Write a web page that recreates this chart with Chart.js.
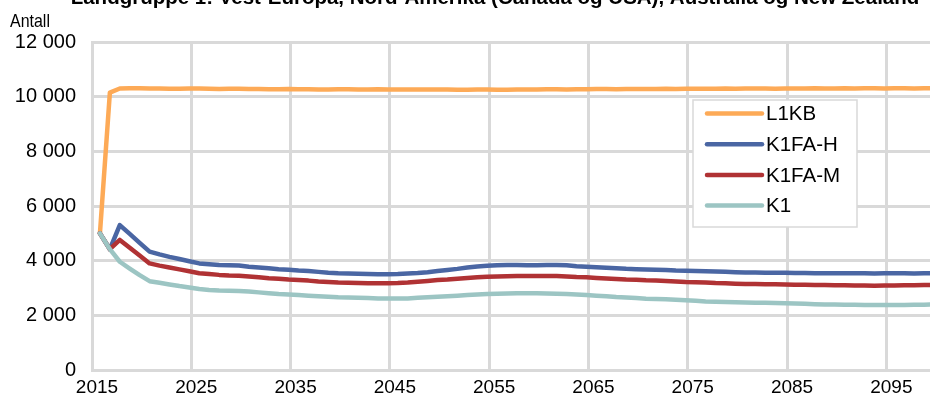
<!DOCTYPE html>
<html>
<head>
<meta charset="utf-8">
<script src="https://cdn.jsdelivr.net/npm/chart.js@4.4.1/dist/chart.umd.min.js"></script>
<style>
  html, body { margin: 0; padding: 0; background: #fff; }
  .graph-area { position: relative; width: 930px; height: 403px; }
</style>
</head>
<body>
<div class="graph-area"><canvas id="chart"></canvas></div>
<script>
  // Setup Block
  const chartTitle = 'Landgruppe 1: Vest-Europa, Nord-Amerika (Canada og USA), Australia og New Zealand';
  const yAxisTitle = 'Antall';

  const firstYear = 2015;
  const lastYear  = 2099;
  const years = [];
  for (let y = firstYear; y <= lastYear; y++) years.push(y);

  const seriesNames  = ['L1KB', 'K1FA-H', 'K1FA-M', 'K1'];
  const seriesColors = ['#fdaa57', '#4a66a3', '#b03234', '#9cc5c3'];

  const l1kb = [
    5000, 10150, 10300, 10310, 10310, 10300, 10300, 10290, 10290, 10300,
    10300, 10290, 10280, 10290, 10290, 10280, 10280, 10270, 10270, 10280,
    10270, 10270, 10260, 10260, 10270, 10270, 10260, 10260, 10270, 10260,
    10260, 10260, 10260, 10260, 10260, 10260, 10250, 10250, 10260, 10260,
    10250, 10250, 10260, 10260, 10260, 10270, 10270, 10260, 10270, 10270,
    10280, 10280, 10270, 10280, 10280, 10280, 10280, 10290, 10280, 10290,
    10290, 10290, 10290, 10300, 10290, 10300, 10300, 10300, 10290, 10300,
    10300, 10300, 10310, 10300, 10300, 10310, 10300, 10310, 10310, 10300,
    10310, 10310, 10300, 10310, 10310
  ];

  const k1faH = [
    5000, 4420, 5300, 4980, 4650, 4330, 4230, 4140, 4060, 3980,
    3900, 3870, 3840, 3830, 3820, 3780, 3750, 3720, 3690, 3670,
    3640, 3620, 3590, 3560, 3540, 3530, 3520, 3510, 3500, 3500,
    3510, 3530, 3550, 3580, 3620, 3660, 3700, 3750, 3790, 3810,
    3830, 3840, 3840, 3830, 3830, 3840, 3840, 3830, 3800, 3780,
    3760, 3740, 3720, 3700, 3690, 3680, 3670, 3660, 3640, 3630,
    3620, 3610, 3600, 3590, 3580, 3570, 3570, 3560, 3560, 3560,
    3550, 3550, 3540, 3540, 3540, 3540, 3540, 3540, 3530, 3540,
    3540, 3540, 3530, 3540, 3540
  ];

  const k1faM = [
    5000, 4420, 4760, 4470, 4190, 3900, 3820, 3750, 3680, 3610,
    3540, 3510, 3480, 3460, 3450, 3420, 3390, 3360, 3340, 3310,
    3290, 3270, 3240, 3220, 3200, 3190, 3180, 3170, 3170, 3170,
    3180, 3200, 3230, 3260, 3290, 3310, 3340, 3370, 3390, 3410,
    3420, 3430, 3440, 3440, 3440, 3440, 3440, 3420, 3400, 3390,
    3370, 3350, 3330, 3310, 3300, 3280, 3270, 3260, 3240, 3220,
    3210, 3200, 3180, 3170, 3160, 3150, 3150, 3140, 3140, 3130,
    3120, 3120, 3110, 3110, 3100, 3100, 3090, 3090, 3080, 3090,
    3090, 3100, 3100, 3110, 3110
  ];

  const k1 = [
    5000, 4420, 3960, 3710, 3470, 3250, 3190, 3130, 3070, 3020,
    2960, 2930, 2910, 2900, 2890, 2870, 2840, 2810, 2780, 2760,
    2740, 2720, 2700, 2680, 2660, 2650, 2640, 2630, 2620, 2620,
    2620, 2620, 2640, 2660, 2680, 2700, 2720, 2740, 2760, 2780,
    2790, 2800, 2810, 2810, 2810, 2800, 2790, 2780, 2760, 2740,
    2720, 2700, 2670, 2650, 2630, 2610, 2600, 2590, 2570, 2550,
    2530, 2510, 2500, 2490, 2480, 2470, 2460, 2460, 2450, 2440,
    2430, 2420, 2410, 2400, 2400, 2390, 2390, 2380, 2380, 2380,
    2380, 2380, 2390, 2390, 2400
  ];

  const seriesValues = [l1kb, k1faH, k1faM, k1];

  const yMin  = 0;
  const yMax  = 12000;
  const yStep = 2000;
  const xLabelYears = [2015, 2025, 2035, 2045, 2055, 2065, 2075, 2085, 2095];

  const fontFamily = "'Liberation Sans', Arial, sans-serif";
  const gridColor  = '#d9d9d9';

  // x scale: gridlines sit a little before each labelled year
  const xStart = 2014.2;
  const xEnd   = 2098.6;

  const data = {
    datasets: seriesNames.map((name, i) => ({
      label: name,
      data: years.map((yr, j) => ({ x: yr, y: seriesValues[i][j] })),
      borderColor: seriesColors[i],
      backgroundColor: seriesColors[i],
      borderWidth: 4.5,
      pointRadius: 0,
      tension: 0,
      borderJoinStyle: 'round',
      borderCapStyle: 'round',
      order: seriesNames.length - i, // K1 on top
    })),
  };

  // "12 000" style
  function formatThousands(v) {
    return String(v).replace(/\B(?=(\d{3})+(?!\d))/g, ' ');
  }

  // Plugin - title text and unit label in the top margin
  const topTexts = {
    id: 'topTexts',
    afterDraw(chart) {
      const { ctx } = chart;
      ctx.save();
      ctx.fillStyle = '#000';
      ctx.textBaseline = 'alphabetic';
      ctx.font = 'bold 20.5px ' + fontFamily;
      ctx.textAlign = 'center';
      ctx.fillText(chartTitle, 495, 4);
      // unit label is set a bit narrow
      ctx.font = '19px ' + fontFamily;
      ctx.textAlign = 'left';
      ctx.translate(10, 27);
      ctx.scale(0.84, 1);
      ctx.fillText(yAxisTitle, 0, 0);
      ctx.restore();
    }
  };

  // Plugin - boxed legend inside the plot
  const boxLegend = {
    id: 'boxLegend',
    afterDatasetsDraw(chart) {
      const { ctx } = chart;
      const box = { x: 693, y: 100, w: 164, h: 127 };
      ctx.save();
      ctx.fillStyle = '#fff';
      ctx.fillRect(box.x, box.y, box.w, box.h);
      ctx.strokeStyle = gridColor;
      ctx.lineWidth = 1.5;
      ctx.strokeRect(box.x, box.y, box.w, box.h);

      ctx.font = '20.5px ' + fontFamily;
      ctx.textBaseline = 'middle';
      ctx.textAlign = 'left';
      chart.data.datasets.forEach((ds, i) => {
        const rowY = 113.5 + i * 30.7;
        ctx.strokeStyle = ds.borderColor;
        ctx.lineWidth = 4.5;
        ctx.lineCap = 'round';
        ctx.beginPath();
        ctx.moveTo(707, rowY);
        ctx.lineTo(762, rowY);
        ctx.stroke();
        ctx.fillStyle = '#000';
        ctx.fillText(ds.label, 766, rowY + 1);
      });
      ctx.restore();
    }
  };

  // Config block
  const config = {
    type: 'line',
    data,
    options: {
      responsive: true,
      maintainAspectRatio: false,
      animation: false,
      layout: {
        padding: { top: 42, right: 0, bottom: 0, left: 0 }
      },
      scales: {
        x: {
          type: 'linear',
          min: xStart,
          max: xEnd,
          afterBuildTicks(scale) {
            scale.ticks = xLabelYears.map(yr => ({ value: yr - (xLabelYears[0] - xStart) }));
          },
          afterFit(scale) { scale.height = 33; },
          grid: { color: gridColor, lineWidth: 3, drawTicks: false },
          border: { color: gridColor, width: 3 },
          ticks: {
            autoSkip: false,
            maxRotation: 0,
            padding: 6,
            labelOffset: 5,
            color: '#000',
            font: { family: fontFamily, size: 19 },
            callback: (v, i) => String(xLabelYears[i]),
          },
        },
        y: {
          min: yMin,
          max: yMax,
          afterFit(scale) { scale.width = 92; },
          grid: { color: gridColor, lineWidth: 3, drawTicks: false },
          border: { color: gridColor, width: 3 },
          ticks: {
            stepSize: yStep,
            padding: 16,
            color: '#000',
            font: { family: fontFamily, size: 20 },
            callback: v => formatThousands(v),
          },
        },
      },
      plugins: {
        legend: { display: false },
        tooltip: { enabled: false },
      },
    },
    plugins: [boxLegend, topTexts]
  };

  // render block
  const mychart = new Chart(document.getElementById('chart'), config);
</script>
</body>
</html>
